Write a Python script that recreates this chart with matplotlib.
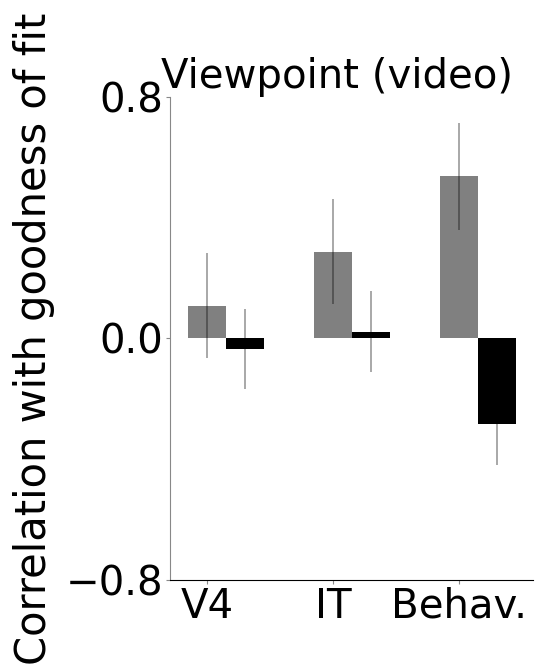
import matplotlib
matplotlib.use('Agg')
import matplotlib.pyplot as plt
import numpy as np

# correlation with goodness of fit, viewpoint (video)
areas = ['V4', 'IT', 'Behav.']
gray_vals = [0.108, 0.287, 0.537]
gray_err = [0.174, 0.174, 0.176]
black_vals = [-0.034, 0.023, -0.285]
black_err = [0.133, 0.133, 0.133]

width = 0.3
x = np.arange(len(areas))

fig = plt.figure(figsize=(5.42, 6.65), dpi=100)
ax = fig.add_axes([0.314, 0.128, 0.669, 0.726])

ekw = dict(ecolor=(0, 0, 0, 0.4), elinewidth=1.2, capsize=0)
ax.bar(x, gray_vals, width, color='#808080', yerr=gray_err, error_kw=ekw)
ax.bar(x + width, black_vals, width, color='black', yerr=black_err, error_kw=ekw)

ax.set_xlim(-0.294, 2.587)
ax.set_ylim(-0.8, 0.8)
ax.set_yticks([-0.8, 0.0, 0.8])
ax.set_yticklabels(['\u22120.8', '0.0', '0.8'])
ax.set_xticks(x)
ax.set_xticklabels(areas)

ax.spines['top'].set_visible(False)
ax.spines['right'].set_visible(False)
ax.spines['left'].set_color('#888888')
ax.spines['bottom'].set_color('black')
ax.tick_params(axis='both', labelsize=29, length=3, color='#888888', pad=2)

ax.set_ylabel('Correlation with goodness of fit', fontsize=30, labelpad=8)
ax.set_title('Viewpoint (video)', fontsize=29, pad=-1, x=0.461)

fig.savefig('out.png', dpi=100)
